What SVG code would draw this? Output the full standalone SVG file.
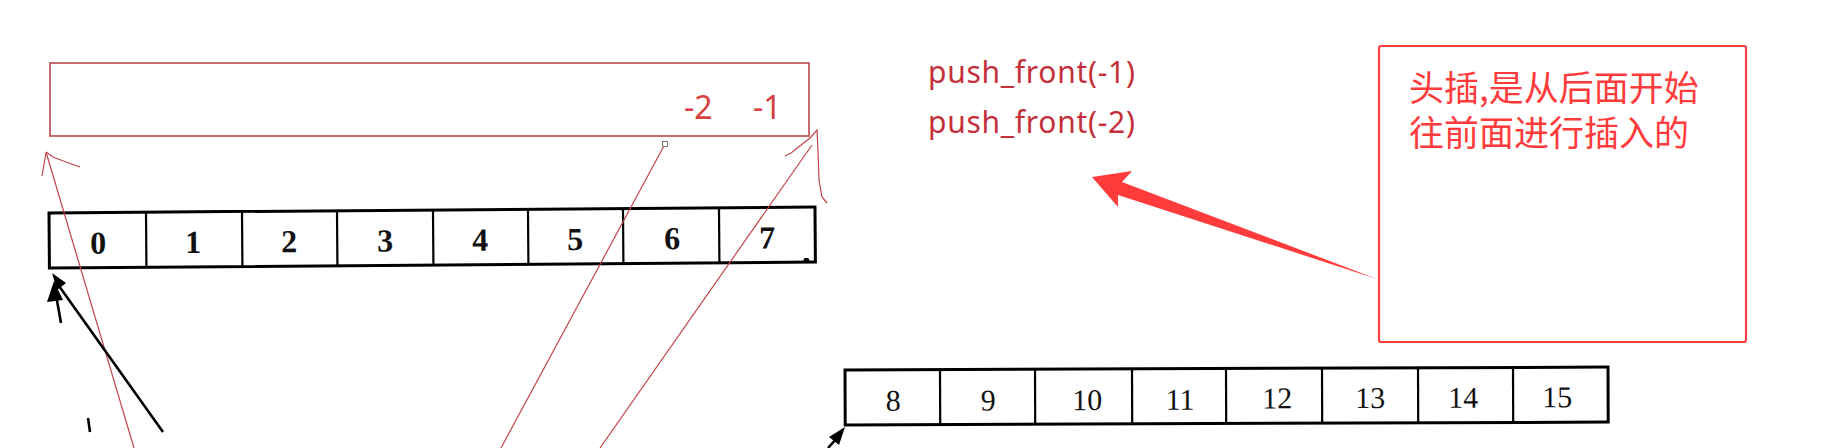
<svg xmlns="http://www.w3.org/2000/svg" width="1831" height="448" viewBox="0 0 1831 448">
<style>
.cell{fill:none;stroke:#000;stroke-width:3}
.div{stroke:#000;stroke-width:2.2}
.num1{font-family:"Liberation Serif",serif;font-size:32px;font-weight:bold;text-anchor:middle;fill:#111}
.num2{font-family:"Liberation Serif",serif;font-size:30px;text-anchor:middle;fill:#111}
.thin{fill:none;stroke:#c0454a;stroke-width:1.2}
.code{font-family:"Noto Sans",sans-serif;font-size:30px;fill:#c4303a}
.neg{font-family:"Noto Sans",sans-serif;font-size:32px;fill:#d8403f}
.note{font-family:"Noto Sans CJK SC",sans-serif;font-size:35px;fill:#ff3b3b}
.blk{fill:none;stroke:#000;stroke-width:2.6}
</style>
<rect width="1831" height="448" fill="#fff"/>

<g id="top-box">
  <rect x="50" y="63" width="759" height="73" fill="none" stroke="#b84a4a" stroke-width="1.6"/>
  <text class="neg" x="684" y="119">-2</text>
  <text class="neg" x="753" y="119">-1</text>
</g>

<g id="array-0-7" transform="rotate(-0.45 49 213)">
  <rect class="cell" x="49" y="213" width="766" height="55"/>
  <line class="div" x1="146" y1="213" x2="146" y2="268"/>
  <line class="div" x1="242" y1="213" x2="242" y2="268"/>
  <line class="div" x1="337" y1="213" x2="337" y2="268"/>
  <line class="div" x1="433" y1="213" x2="433" y2="268"/>
  <line class="div" x1="528" y1="213" x2="528" y2="268"/>
  <line class="div" x1="623" y1="213" x2="623" y2="268"/>
  <line class="div" x1="719" y1="213" x2="719" y2="268"/>
  <text class="num1" x="98" y="254">0</text>
  <text class="num1" x="193" y="254">1</text>
  <text class="num1" x="289" y="254">2</text>
  <text class="num1" x="385" y="254">3</text>
  <text class="num1" x="480" y="254">4</text>
  <text class="num1" x="575" y="254">5</text>
  <text class="num1" x="672" y="254">6</text>
  <text class="num1" x="767" y="254">7</text>
  <polygon points="802,269 810,269 808,264 804,264" fill="#000"/>
</g>

<g id="array-8-15" transform="rotate(-0.22 845 370)">
  <rect class="cell" x="845" y="370" width="763" height="55"/>
  <line class="div" x1="940" y1="370" x2="940" y2="425"/>
  <line class="div" x1="1035" y1="370" x2="1035" y2="425"/>
  <line class="div" x1="1132" y1="370" x2="1132" y2="425"/>
  <line class="div" x1="1226" y1="370" x2="1226" y2="425"/>
  <line class="div" x1="1322" y1="370" x2="1322" y2="425"/>
  <line class="div" x1="1418" y1="370" x2="1418" y2="425"/>
  <line class="div" x1="1513" y1="370" x2="1513" y2="425"/>
  <text class="num2" x="893" y="411">8</text>
  <text class="num2" x="988" y="411">9</text>
  <text class="num2" x="1087" y="411">10</text>
  <text class="num2" x="1180" y="411">11</text>
  <text class="num2" x="1277" y="410">12</text>
  <text class="num2" x="1370" y="410">13</text>
  <text class="num2" x="1463" y="410">14</text>
  <text class="num2" x="1557" y="410">15</text>
</g>

<g id="code-text">
  <text class="code" x="928" y="83" textLength="207" lengthAdjust="spacing">push_front(-1)</text>
  <text class="code" x="928" y="133" textLength="207" lengthAdjust="spacing">push_front(-2)</text>
</g>

<g id="note-box">
  <rect x="1379" y="46" width="367" height="296" rx="2" fill="none" stroke="#ff4040" stroke-width="2.2"/>
  <text class="note" x="1409" y="101">头插,是从后面开始</text>
  <text class="note" x="1409" y="146">往前面进行插入的</text>
</g>

<g id="connectors">
  <polygon points="1092,177 1132,171 1122,182 1377,279 1118,195 1118,207" fill="#ff3b3b"/>
  <path class="thin" d="M46,152 L134,448"/>
  <path class="thin" d="M46,152 L53,157 L66,162 L80,167 M46,153 L42,176"/>
  <path class="thin" d="M665,144 L501,448"/>
  <rect x="662.5" y="141.5" width="5" height="5" fill="#fff" stroke="#777" stroke-width="1"/>
  <path class="thin" d="M812,145 L600,448"/>
  <path class="thin" d="M785,156 L791,153 L810,138 L817,130 L818,150 L819,180 L822,197 L827,203"/>
  <line class="blk" x1="163" y1="432" x2="59" y2="286"/>
  <polygon points="52,273 66,283 57,290" fill="#000"/>
  <line class="blk" x1="61" y1="323" x2="56" y2="295"/>
  <polygon points="54,281 47,302 63,300" fill="#000"/>
  <line class="blk" x1="88" y1="418" x2="90" y2="432"/>
  <line class="blk" x1="828" y1="448" x2="837" y2="438"/>
  <polygon points="845,427 829,437 839,445" fill="#000"/>
</g>
</svg>
